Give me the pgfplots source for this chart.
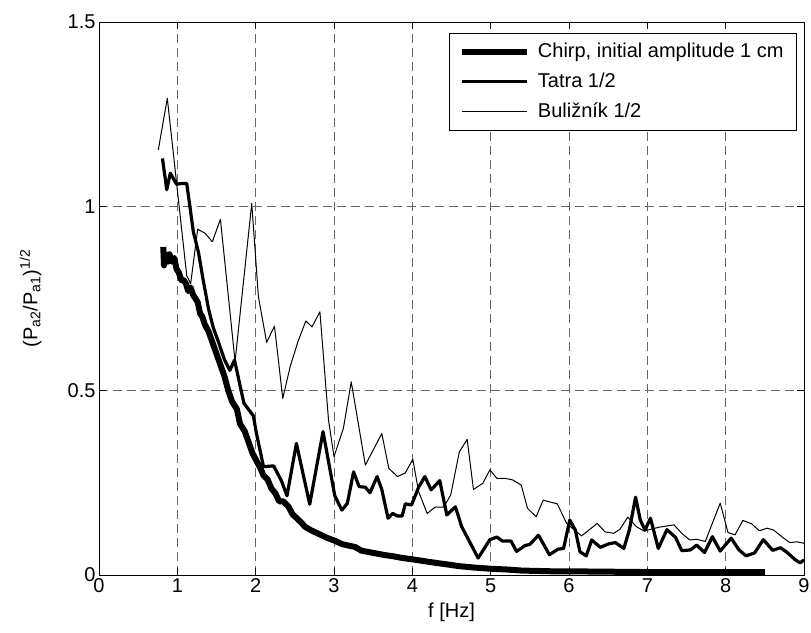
\documentclass[border=0pt]{standalone}
\usepackage{fontspec}
\setmainfont{Liberation Sans}
\usepackage{pgfplots}
\pgfplotsset{compat=1.18}
\begin{document}
\begin{tikzpicture}
\begin{axis}[
  scale only axis, width=705pt, height=553pt,
  xmin=0, xmax=9, ymin=0, ymax=1.5,
  xtick={0,1,2,3,4,5,6,7,8,9}, ytick={0,0.5,1,1.5},
  font=\fontsize{20}{24}\selectfont,
  /pgf/number format/assume math mode=true,
  tick align=inside, major tick length=7pt,
  xtick pos=both, ytick pos=both, xticklabel pos=lower, yticklabel pos=left,
  axis line style={line width=0.8pt, black},
  every tick/.style={black, line width=0.8pt},
  grid=major,
  major grid style={black!60, line width=0.8pt, dash pattern=on 9pt off 5pt},
  xlabel={f [Hz]},
  ylabel={(P\textsubscript{a2}/P\textsubscript{a1})\textsuperscript{1/2}},
  every axis x label/.style={at={(axis description cs:0.5,-0.0434)}, anchor=north},
  every axis y label/.style={at={(axis description cs:-0.0766,0.5)}, rotate=90, anchor=south},
  legend style={at={(1,1)}, anchor=north east, xshift=-7pt, yshift=-11pt,
    draw=black, line width=0.8pt, fill=white,
    font=\fontsize{20}{24}\selectfont,
    inner xsep=10pt, inner ysep=6pt, row sep=5pt, column sep=5pt,
    nodes={inner sep=3pt, text height=15pt, text depth=4pt}},
  legend cell align=left,
  legend image code/.code={\draw[#1] (0pt,0pt) -- (65pt,0pt);},
]
\addplot[black, line width=6pt, line join=round] coordinates {
(0.82,0.89) (0.83,0.84) (0.85,0.87) (0.88,0.85) (0.90,0.87) (0.93,0.85)
(0.96,0.86) (0.99,0.83) (1.02,0.82) (1.05,0.80) (1.08,0.80) (1.11,0.79)
(1.14,0.77) (1.17,0.78) (1.20,0.76) (1.23,0.75) (1.26,0.74) (1.29,0.71)
(1.32,0.70) (1.35,0.68) (1.40,0.66) (1.45,0.63) (1.50,0.60) (1.55,0.57)
(1.60,0.54) (1.65,0.50) (1.70,0.47) (1.76,0.45) (1.80,0.41) (1.86,0.39)
(1.91,0.36) (1.96,0.33) (2.01,0.31) (2.06,0.29) (2.10,0.27) (2.15,0.26)
(2.20,0.235) (2.25,0.222) (2.30,0.20) (2.35,0.20) (2.42,0.185) (2.47,0.165)
(2.52,0.155) (2.57,0.145) (2.63,0.131) (2.70,0.122) (2.77,0.115) (2.84,0.108)
(2.92,0.10) (3.01,0.093) (3.10,0.084) (3.18,0.080) (3.27,0.076) (3.35,0.066)
(3.45,0.062) (3.55,0.058) (3.65,0.054) (3.75,0.051) (3.85,0.047) (3.95,0.044)
(4.05,0.041) (4.20,0.036) (4.40,0.030) (4.60,0.024) (4.80,0.020) (5.00,0.017)
(5.20,0.015) (5.40,0.012) (5.60,0.011) (5.80,0.010) (6.00,0.010) (6.50,0.009)
(7.00,0.008) (7.50,0.008) (8.00,0.008) (8.50,0.008)
};
\addlegendentry{Chirp, initial amplitude 1 cm}
\addplot[black, line width=3.2pt, line join=round] coordinates {
(0.81,1.13) (0.865,1.045) (0.91,1.09) (0.99,1.06) (1.06,1.062) (1.12,1.062)
(1.16,1.0) (1.205,0.93) (1.27,0.875) (1.33,0.80) (1.40,0.72) (1.46,0.67) (1.52,0.635)
(1.60,0.585) (1.67,0.555) (1.73,0.583) (1.85,0.466) (1.97,0.432) (2.01,0.384)
(2.10,0.294) (2.23,0.296) (2.33,0.255) (2.40,0.215) (2.52,0.357) (2.69,0.192)
(2.86,0.389) (3.01,0.215) (3.10,0.176) (3.17,0.194) (3.25,0.28) (3.32,0.24)
(3.40,0.238) (3.46,0.223) (3.55,0.267) (3.61,0.232) (3.69,0.154) (3.75,0.167)
(3.81,0.160) (3.87,0.160) (3.91,0.193) (3.99,0.19) (4.08,0.238) (4.16,0.267)
(4.24,0.231) (4.35,0.256) (4.44,0.163) (4.55,0.185) (4.63,0.131) (4.84,0.046)
(4.99,0.096) (5.08,0.103) (5.15,0.092) (5.26,0.092) (5.33,0.064) (5.44,0.080)
(5.50,0.083) (5.61,0.108) (5.75,0.055) (5.86,0.07) (5.93,0.072) (6.01,0.149)
(6.08,0.122) (6.14,0.063) (6.22,0.052) (6.29,0.095) (6.40,0.075) (6.50,0.084)
(6.59,0.088) (6.70,0.072) (6.77,0.122) (6.85,0.211) (6.91,0.149) (6.97,0.122)
(7.04,0.154) (7.14,0.072) (7.25,0.123) (7.36,0.102) (7.44,0.066) (7.55,0.068)
(7.63,0.081) (7.73,0.061) (7.83,0.104) (7.93,0.065) (8.07,0.100) (8.17,0.068)
(8.26,0.052) (8.37,0.060) (8.48,0.096) (8.60,0.067) (8.70,0.074) (8.78,0.062)
(8.89,0.041) (8.95,0.033) (9.0,0.041)
};
\addlegendentry{Tatra 1/2}
\addplot[black, line width=1pt, line join=round] coordinates {
(0.757,1.153) (0.872,1.293) (1.12,0.812) (1.17,0.79) (1.26,0.938) (1.354,0.927)
(1.447,0.904) (1.55,0.965) (1.737,0.579) (1.95,1.008) (2.035,0.755) (2.14,0.631)
(2.24,0.675) (2.346,0.479) (2.44,0.565) (2.54,0.633) (2.64,0.689) (2.72,0.673)
(2.82,0.714) (2.93,0.420) (3.00,0.321) (3.12,0.398) (3.22,0.524) (3.40,0.298)
(3.61,0.384) (3.70,0.289) (3.81,0.267) (3.91,0.277) (4.006,0.314) (4.08,0.226)
(4.19,0.167) (4.29,0.184) (4.40,0.184) (4.49,0.217) (4.60,0.334) (4.70,0.368)
(4.78,0.232) (4.90,0.249) (4.99,0.285) (5.08,0.262) (5.19,0.262) (5.28,0.258)
(5.39,0.244) (5.47,0.181) (5.58,0.158) (5.67,0.203) (5.85,0.193) (5.97,0.140)
(6.16,0.106) (6.36,0.140) (6.46,0.117) (6.57,0.113) (6.65,0.124) (6.75,0.157)
(6.86,0.131) (6.96,0.119) (7.06,0.125) (7.16,0.13) (7.34,0.136) (7.44,0.113)
(7.54,0.095) (7.63,0.097) (7.74,0.091) (7.93,0.195) (8.03,0.115) (8.12,0.109)
(8.22,0.148) (8.33,0.139) (8.43,0.12) (8.53,0.127) (8.61,0.122) (8.74,0.10)
(8.82,0.088) (8.91,0.090) (9.0,0.086)
};
\addlegendentry{Buli\v{z}n\'{\i}k 1/2}
\end{axis}
\pgfresetboundingbox
\path[use as bounding box] ([xshift=-99pt,yshift=-57pt]current axis.south west) rectangle ([xshift=7pt,yshift=22pt]current axis.north east);
\end{tikzpicture}
\end{document}
